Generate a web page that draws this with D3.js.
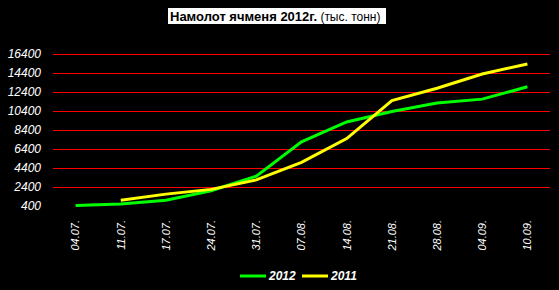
<!DOCTYPE html>
<html>
<head>
<meta charset="utf-8">
<script src="https://cdn.jsdelivr.net/npm/d3@7"></script>
<style>
  body { margin: 0; background: #000; }
  text { font-family: "Liberation Sans", Arial, sans-serif; }
</style>
</head>
<body>
<div id="chart"></div>
<script>
const width = 559
const height = 290

// data
const dates = ["04.07.", "11.07.", "17.07.", "24.07.", "31.07.", "07.08.", "14.08.", "21.08.", "28.08.", "04.09.", "10.09."]
const y2012 = [450, 600, 1000, 2000, 3550, 7150, 9250, 10350, 11250, 11650, 12950]
const y2011 = [null, 1000, 1650, 2150, 3150, 5000, 7500, 11500, 12800, 14300, 15350]
const yTicks = [400, 2400, 4400, 6400, 8400, 10400, 12400, 14400, 16400]

const svg = d3.select("#chart").append("svg").attr("width", width).attr("height", height)
svg.append("rect").attr("width", width).attr("height", height).attr("fill", "#000")

// escalas
const x = d3.scalePoint().domain(dates).range([53, 550]).padding(0.5)
const y = d3.scaleLinear().domain([400, 16400]).range([206, 54])

// grid
svg.append("g").selectAll("line").data(yTicks.filter(d => d > 400)).enter()
    .append("line")
    .attr("x1", 53).attr("x2", 550)
    .attr("y1", d => Math.round(y(d)) + 0.5).attr("y2", d => Math.round(y(d)) + 0.5)
    .attr("stroke", "#ff0000").attr("stroke-width", 1)

// y labels
svg.append("g").selectAll("text").data(yTicks).enter()
    .append("text")
    .attr("x", 41).attr("y", d => y(d)).attr("dy", "0.35em")
    .attr("text-anchor", "end")
    .attr("fill", "#fff").attr("font-size", 12).attr("font-style", "italic")
    .text(d => d)

// x labels
svg.append("g").selectAll("text").data(dates).enter()
    .append("text")
    .attr("transform", d => `translate(${x(d)}, 220) rotate(-90)`)
    .attr("dy", "0.35em")
    .attr("text-anchor", "end")
    .attr("fill", "#fff").attr("font-size", 11).attr("font-style", "italic")
    .text(d => d)

// lines
const line = d3.line().defined(d => d[1] != null).x(d => x(d[0])).y(d => y(d[1]))
svg.append("path").datum(dates.map((d, i) => [d, y2012[i]]))
    .attr("d", line).attr("fill", "none").attr("stroke", "#00ff00").attr("stroke-width", 3)
svg.append("path").datum(dates.map((d, i) => [d, y2011[i]]))
    .attr("d", line).attr("fill", "none").attr("stroke", "#ffff00").attr("stroke-width", 3)

// title
svg.append("rect").attr("x", 168).attr("y", 8).attr("width", 218).attr("height", 16).attr("fill", "#fff")
const title = svg.append("text").attr("x", 170).attr("y", 21).attr("fill", "#000").attr("font-size", 13)
title.append("tspan").attr("font-weight", "bold").text("Намолот ячменя 2012г.")
title.append("tspan").attr("font-size", 12).text(" (тыс. тонн)")

// legend
const legend = [["2012", "#00ff00", 240], ["2011", "#ffff00", 302]]
const lg = svg.append("g").selectAll("g").data(legend).enter().append("g")
lg.append("line").attr("x1", d => d[2]).attr("x2", d => d[2] + 26).attr("y1", 276).attr("y2", 276)
    .attr("stroke", d => d[1]).attr("stroke-width", 3)
lg.append("text").attr("x", d => d[2] + 29).attr("y", 280)
    .attr("fill", "#fff").attr("font-size", 12).attr("font-weight", "bold").attr("font-style", "italic")
    .text(d => d[0])
</script>
</body>
</html>
